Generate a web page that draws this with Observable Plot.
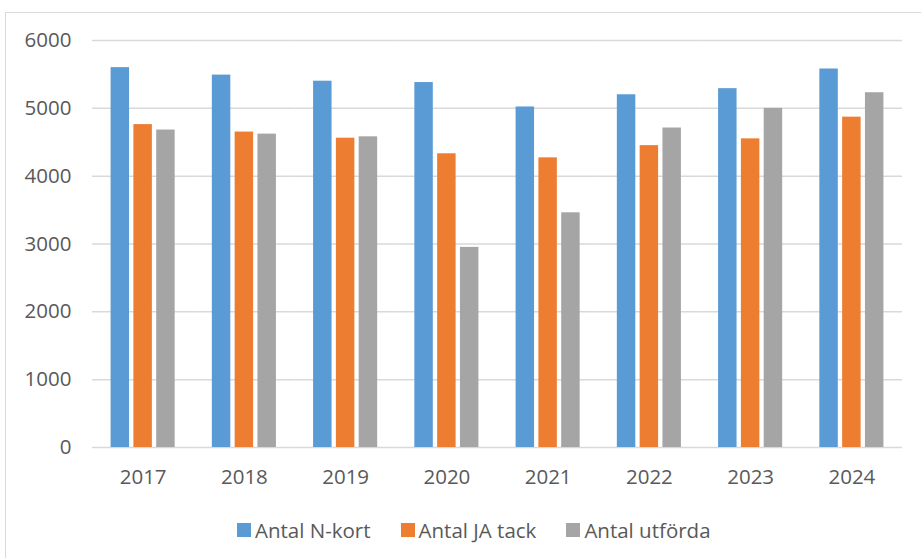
<!DOCTYPE html>
<html>
<head>
<meta charset="utf-8">
<script src="https://cdn.jsdelivr.net/npm/d3@7"></script>
<script src="https://cdn.jsdelivr.net/npm/@observablehq/plot@0.6"></script>
<style>
  html, body { margin: 0; padding: 0; background: #fff; overflow: hidden; width: 921px; height: 558px; }
  #frame { position: absolute; left: 5px; top: 12px; width: 1000px; height: 700px; border: 1.5px solid #d9d9d9; box-sizing: border-box; }
  #chart { position: absolute; left: 0; top: 0; }
  #legend { position: absolute; left: 237px; top: 516px; display: flex; align-items: center;
            font-family: "Open Sans", sans-serif; font-size: 20.5px; color: #595959; white-space: nowrap; }
  #legend .item { display: inline-flex; align-items: center; margin-right: 30px; }
  #legend .sw { width: 14px; height: 14px; margin-right: 4px; display: inline-block; }
</style>
</head>
<body>
<div id="frame"></div>
<div id="chart"></div>
<div id="legend"></div>
<script>
// Yearly counts per series
const years = ["2017", "2018", "2019", "2020", "2021", "2022", "2023", "2024"];
const series = ["Antal N-kort", "Antal JA tack", "Antal utförda"];
const colors = ["#5b9bd5", "#ed7d31", "#a5a5a5"];
const nKort   = [5600, 5490, 5400, 5380, 5020, 5200, 5290, 5580];
const jaTack  = [4760, 4650, 4560, 4330, 4270, 4450, 4550, 4870];
const utforda = [4680, 4620, 4580, 2950, 3460, 4710, 5000, 5230];
const yTicks  = [0, 1000, 2000, 3000, 4000, 5000, 6000];

const values = [nKort, jaTack, utforda];
const rows = years.flatMap((year, i) =>
  series.map((s, j) => ({ year, series: s, value: values[j][i] }))
);

const chart = Plot.plot({
  width: 921,
  height: 500,
  marginLeft: 92,
  marginRight: 19,
  marginTop: 40,
  marginBottom: 53,
  style: { fontFamily: "'Open Sans', sans-serif", fontSize: "20.5px", color: "#595959", background: "transparent", overflow: "visible" },
  fx: { domain: years, paddingInner: 0, paddingOuter: 0, round: false, label: null, tickSize: 0, tickPadding: 22 },
  x: { domain: series, paddingInner: 0.19, paddingOuter: 0.815, round: false, axis: null },
  y: { domain: [0, 6000], ticks: yTicks, tickFormat: d => String(d), tickSize: 0, tickPadding: 21, label: null },
  color: { domain: series, range: colors },
  marks: [
    Plot.ruleY(yTicks, { stroke: "#d9d9d9", strokeWidth: 1.5 }),
    Plot.barY(rows, { fx: "year", x: "series", y: "value", fill: "series" })
  ]
});
document.getElementById("chart").appendChild(chart);

// Legend below the chart
const legend = d3.select("#legend");
series.forEach((s, i) => {
  const item = legend.append("span").attr("class", "item");
  item.append("span").attr("class", "sw").style("background", colors[i]);
  item.append("span").text(s);
});
</script>
</body>
</html>
